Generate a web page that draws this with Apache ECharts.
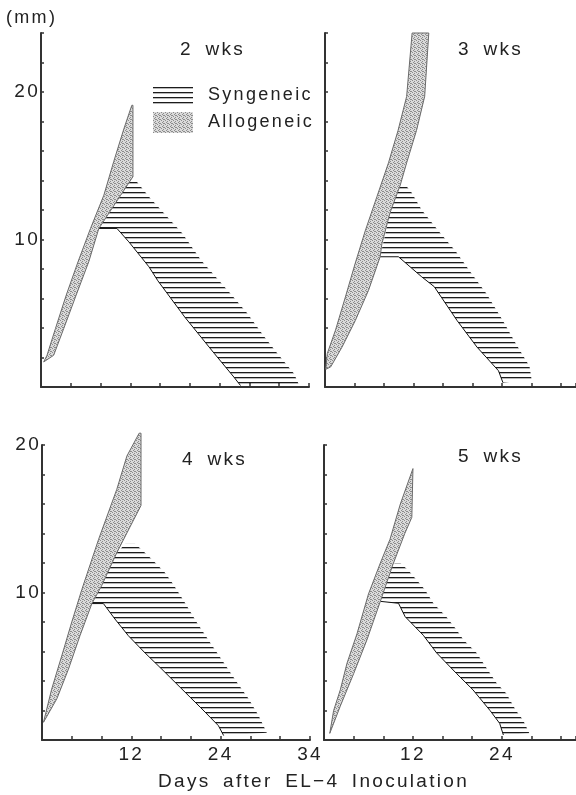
<!DOCTYPE html>
<html><head><meta charset="utf-8">
<script src="https://cdn.jsdelivr.net/npm/echarts/dist/echarts.min.js"></script>
<style>html,body{margin:0;padding:0;background:#fff}#c{width:576px;height:795px}</style>
</head><body><div id="c"></div>
<script>
// ---------- data (day, mm) ----------
// 2 wks
const allo2Upper = [[0.36,1.7],[0.81,2.15],[1.94,3.96],[3.37,6.2],[4.98,8.5],[6.65,10.75],[8.44,13.0],[9.78,15.3],[11.13,17.5],[12.2,19.1]];
const allo2Lower = [[0.36,1.7],[1.7,2.15],[3.05,3.96],[4.7,6.2],[6.42,8.5],[7.77,10.75],[10.7,13.0],[12.35,14.26],[12.35,19.1]];
const syn2Upper = [[7.77,10.75],[10.7,13.0],[11.58,13.9],[12.9,13.9],[14.5,12.9],[19.0,10.4],[21.5,8.6],[25.5,6.3],[27.7,5.0],[30.0,3.4],[31.7,2.3],[34.0,0.9],[34.6,0.2]];
const syn2Lower = [[7.77,10.75],[10.2,10.75],[11.8,9.84],[14.5,8.15],[15.7,7.2],[19.3,4.75],[23.3,2.26],[25.9,0.68],[26.8,0.1]];
// 3 wks
const allo3Upper = [[0.1,1.2],[0.31,2.27],[1.42,3.85],[2.76,6.1],[4.1,8.4],[5.46,10.6],[7.03,12.9],[8.6,15.2],[9.9,17.4],[11.06,19.7],[11.8,24]];
const allo3Lower = [[0.1,1.2],[0.76,1.36],[2.3,2.7],[4.1,4.5],[5.9,6.56],[7.47,8.83],[7.7,9.7],[8.8,11.8],[10.2,13.7],[11.06,15.2],[12.4,17.4],[13.5,19.7],[14.06,24]];
const syn3Upper = [[7.47,8.83],[8.8,11.8],[10.2,13.7],[10.9,13.7],[11.7,13.2],[13.1,12.0],[15.35,10.6],[17.7,9.2],[19.7,7.8],[21.9,6.3],[24.1,4.5],[25.9,2.9],[27.7,1.4],[28.0,0.45]];
const syn3Lower = [[7.47,8.83],[9.95,8.83],[13.1,7.47],[14.8,6.8],[17.9,4.5],[20.6,2.7],[23.5,1.1],[24.1,0.3]];
// 4 wks
const allo4Upper = [[0.2,1.2],[1.3,3.45],[2.65,5.7],[4.0,8.0],[5.35,10.2],[7.6,13.6],[10.05,17.0],[11.4,19.25],[13.05,20.8]];
const allo4Lower = [[0.2,1.2],[2.0,2.8],[3.55,4.8],[5.1,7.07],[6.7,9.25],[8.0,10.45],[10.05,12.7],[13.3,15.9],[13.3,20.8]];
const syn4Upper = [[6.7,9.25],[8.0,10.45],[10.05,12.7],[11.2,13.3],[12.5,13.3],[13.4,12.9],[14.75,12.25],[16.5,11.35],[17.65,10.55],[19.2,9.3],[20.8,7.97],[22.6,6.6],[24.4,5.26],[26.2,3.9],[27.75,2.8],[29.1,1.65],[30.2,0.5]];
const syn4Lower = [[6.7,9.25],[8.25,9.25],[9.8,8.2],[11.6,7.07],[13.85,5.9],[16.1,4.8],[18.8,3.45],[21.5,2.1],[23.7,0.97],[24.4,0.3]];
// 5 wks
const allo5Upper = [[0.78,0.45],[1.3,2.0],[2.2,3.4],[3.1,5.2],[4.45,7.2],[6.0,9.9],[7.6,12.0],[8.9,13.6],[10.3,16.0],[12.0,18.4]];
const allo5Lower = [[0.78,0.45],[2.2,2.3],[4.0,4.5],[5.8,6.8],[7.6,9.4],[9.3,11.9],[10.9,14.0],[11.85,15.1],[12.0,18.4]];
const syn5Upper = [[7.6,9.4],[9.3,11.9],[9.6,12.0],[10.3,12.0],[11.4,11.5],[12.5,10.85],[13.6,10.2],[14.75,9.27],[16.5,8.36],[17.9,7.46],[18.8,6.8],[20.6,5.9],[21.5,5.2],[23.3,3.84],[24.6,3.16],[25.9,2.0],[26.85,1.36],[27.7,0.45]];
const syn5Lower = [[7.6,9.4],[10.05,9.27],[10.95,8.36],[13.4,7.1],[15.2,5.9],[17.9,4.5],[20.1,3.4],[22.4,2.0],[23.7,1.13],[24.2,0.34]];

// ---------- labels ----------
const panelTitles = ['2 wks','3 wks','4 wks','5 wks'];
const seriesNames = ['Syngeneic','Allogeneic'];
const yUnit = '(mm)';
const xTitle = 'Days after EL\u22124 Inoculation';
const yTickLabelValues = [10, 20];
const xTickValuesLeft = [12, 24, 36];
const xTickTextLeft = ['12', '24', '34'];
const xTickValuesRight = [12, 24];
const xTickTextRight = ['12', '24'];

// ---------- text spacing (the original lettering is widely spaced) ----------
const proto = CanvasRenderingContext2D.prototype;
const origFillText = proto.fillText;
proto.fillText = function (t, x, y, m) {
  this.letterSpacing = '2.3px';
  this.wordSpacing = '5px';
  return m === undefined ? origFillText.call(this, t, x, y) : origFillText.call(this, t, x, y, m);
};

// ---------- patterns ----------
function hatchCanvas() {
  const c = document.createElement('canvas'); c.width = 8; c.height = 5;
  const g = c.getContext('2d');
  g.fillStyle = '#1c1c1c'; g.fillRect(0, 2, 8, 1);
  g.fillStyle = 'rgba(0,0,0,0.28)'; g.fillRect(0, 3, 8, 1);
  return c;
}
function stippleCanvas() {
  const c = document.createElement('canvas'); c.width = 4; c.height = 4;
  const g = c.getContext('2d');
  g.fillStyle = '#dadada'; g.fillRect(0, 0, 4, 4);
  g.fillStyle = '#8c8c8c';
  [[0,0],[2,1],[1,2],[3,3],[2,3]].forEach(p => g.fillRect(p[0], p[1], 1, 1));
  return c;
}
const hatchFill = { image: hatchCanvas(), repeat: 'repeat' };
const stippleFill = { image: stippleCanvas(), repeat: 'repeat' };

const FONT = "'Liberation Sans', Arial, sans-serif";
const TXT = '#222';

function band(name, idx, upper, lower, fill, isAllo) {
  const poly = upper.concat(lower.slice().reverse());
  return {
    type: 'custom', name, xAxisIndex: idx, yAxisIndex: idx,
    coordinateSystem: 'cartesian2d', data: poly, encode: { x: 0, y: 1 },
    silent: true, animation: false, clip: false, z: isAllo ? 3 : 2,
    itemStyle: { color: fill, borderWidth: 0 },
    renderItem(params, api) {
      if (params.dataIndex !== 0) return null;
      const children = [{
        type: 'polygon', shape: { points: poly.map(p => api.coord(p)) },
        style: { fill: fill, stroke: isAllo ? '#6a6a6a' : null, lineWidth: isAllo ? 1 : 0 }
      }];
      if (!isAllo) {
        children.push({ type: 'polyline', shape: { points: lower.map(p => api.coord(p)) },
          style: { stroke: '#111', lineWidth: 1, fill: 'none' } });
      }
      return { type: 'group', children };
    }
  };
}

const grids = [
  { left: 41, top: 33, width: 268, height: 354 },
  { left: 325, top: 33, width: 251, height: 354 },
  { left: 42, top: 445, width: 268, height: 295 },
  { left: 324, top: 445, width: 252, height: 295 }
].map(g => Object.assign(g, { outerBoundsMode: 'none', containLabel: false }));

const axisLineStyle = { color: '#333', width: 2 };
const xAxes = [0,1,2,3].map(i => {
  const vals = i === 2 ? xTickValuesLeft : xTickValuesRight;
  const txt = i === 2 ? xTickTextLeft : xTickTextRight;
  return {
    type: 'value', gridIndex: i, min: 0, max: (i % 2 === 0) ? 36 : 34, interval: 4,
    axisLine: { show: true, onZero: false, lineStyle: axisLineStyle },
    axisTick: { show: true, inside: true, length: 4, lineStyle: { color: '#333', width: 1.5 } },
    axisLabel: { show: i >= 2, margin: 5, color: TXT, fontSize: 19, fontFamily: FONT,
      showMaxLabel: true, showMinLabel: true,
      formatter: v => { const k = vals.indexOf(v); return k >= 0 ? txt[k] : ''; } },
    splitLine: { show: false }
  };
});
const yAxes = [0,1,2,3].map(i => ({
  type: 'value', gridIndex: i, min: 0, max: i < 2 ? 24 : 20, interval: 2,
  axisLine: { show: true, onZero: false, lineStyle: axisLineStyle },
  axisTick: { show: true, inside: true, length: 3, lineStyle: { color: '#333', width: 1.5 } },
  axisLabel: { show: i % 2 === 0, margin: 1, color: TXT, fontSize: 19, fontFamily: FONT,
    showMaxLabel: true,
    formatter: v => yTickLabelValues.indexOf(v) >= 0 ? String(v) : '' },
  splitLine: { show: false }
}));

const tStyle = { fontSize: 19, fontWeight: 'normal', color: TXT, fontFamily: FONT };
const titles = [
  { text: yUnit, left: 6, top: 9, padding: 0, textStyle: Object.assign({}, tStyle, { fontSize: 18 }) },
  { text: panelTitles[0], left: 180, top: 40, padding: 0, textStyle: tStyle },
  { text: panelTitles[1], left: 458, top: 40, padding: 0, textStyle: tStyle },
  { text: panelTitles[2], left: 182, top: 450, padding: 0, textStyle: tStyle },
  { text: panelTitles[3], left: 458, top: 447, padding: 0, textStyle: tStyle },
  { text: xTitle, left: 158, top: 772, padding: 0, textStyle: tStyle }
];

const panels = [
  [allo2Upper, allo2Lower, syn2Upper, syn2Lower],
  [allo3Upper, allo3Lower, syn3Upper, syn3Lower],
  [allo4Upper, allo4Lower, syn4Upper, syn4Lower],
  [allo5Upper, allo5Lower, syn5Upper, syn5Lower]
];
const series = [];
panels.forEach((p, i) => {
  series.push(band(seriesNames[0], i, p[2], p[3], hatchFill, false));
  series.push(band(seriesNames[1], i, p[0], p[1], stippleFill, true));
});

const chart = echarts.init(document.getElementById('c'), null, { renderer: 'canvas' });
chart.setOption({
  backgroundColor: '#fff',
  animation: false,
  title: titles,
  legend: {
    data: seriesNames, orient: 'vertical', left: 153, top: 85, padding: 0,
    itemWidth: 40, itemHeight: 21, itemGap: 6, icon: 'rect', selectedMode: false,
    itemStyle: { borderWidth: 0 },
    textStyle: { fontSize: 18, color: TXT, fontFamily: FONT, padding: [0, 0, 0, 10] }
  },
  grid: grids,
  xAxis: xAxes,
  yAxis: yAxes,
  series: series
});
</script></body></html>
